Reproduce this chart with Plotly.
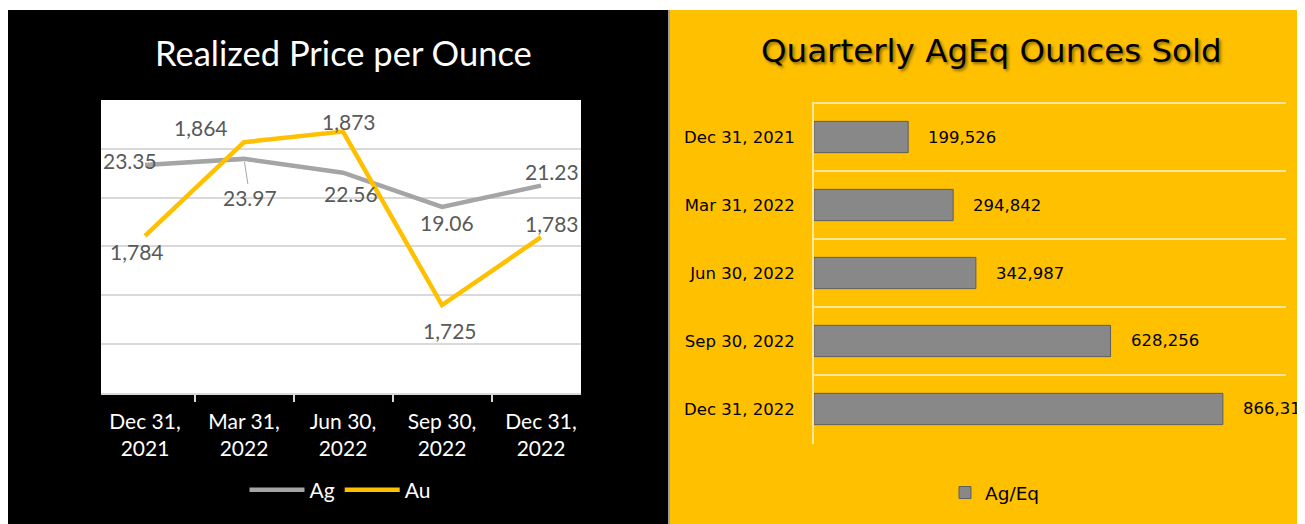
import plotly.graph_objects as go

W, H = 1305, 524
OFF = 8  # page body margin

# data
quarters = ["Dec 31, 2021", "Mar 31, 2022", "Jun 30, 2022", "Sep 30, 2022", "Dec 31, 2022"]
quarter_ticks = ["Dec 31,<br>2021", "Mar 31,<br>2022", "Jun 30,<br>2022", "Sep 30,<br>2022", "Dec 31,<br>2022"]
ag_price = [23.35, 23.97, 22.56, 19.06, 21.23]
au_price = [1784, 1864, 1873, 1725, 1783]
ageq_sold = [199526, 294842, 342987, 628256, 866319]

# label offsets in px (excel-style manual placement)
ag_dx = [-15, 6, 8, 5, 11]
ag_dy = [4, -39, -21, -16, 14]
au_dx = [-8, -43, 6, 8, 11]
au_dy = [-16, 15, 10, -25, 14]

GOLD = "#FFC000"
SILVER = "#A5A5A5"
LFONT = "Lato"
RFONT = "DejaVu Sans"


def px(x):
    return (x - OFF) / W


def py(y):
    return 1 - (y - OFF) / H


fig = go.Figure()

fig.add_trace(go.Scatter(x=quarters, y=ag_price, name="Ag", mode="lines",
                         line=dict(color=SILVER, width=4.5), xaxis="x", yaxis="y",
                         legend="legend"))
fig.add_trace(go.Scatter(x=quarters, y=au_price, name="Au", mode="lines",
                         line=dict(color=GOLD, width=4.5), xaxis="x", yaxis="y2",
                         legend="legend"))

fig.add_trace(go.Bar(x=ageq_sold, y=quarters, orientation="h", name="Ag/Eq",
                     marker=dict(color="#888888", line=dict(color="#5E5E5E", width=1)),
                     xaxis="x2", yaxis="y3", legend="legend2"))

annotations = []
lab_font = dict(family=LFONT, size=21, color="#595959")
for i, q in enumerate(quarters):
    if i == 1:
        # label with a leader line
        annotations.append(dict(x=q, y=ag_price[i], xref="x", yref="y",
                                text=f"{ag_price[i]:.2f}", showarrow=True,
                                arrowhead=0, arrowwidth=1, arrowcolor=SILVER,
                                ax=ag_dx[i], ay=-ag_dy[i], standoff=3, font=lab_font))
    else:
        annotations.append(dict(x=q, y=ag_price[i], xref="x", yref="y",
                                text=f"{ag_price[i]:.2f}", showarrow=False,
                                xshift=ag_dx[i], yshift=ag_dy[i], font=lab_font))
    annotations.append(dict(x=q, y=au_price[i], xref="x", yref="y2",
                            text=f"{au_price[i]:,}", showarrow=False,
                            xshift=au_dx[i], yshift=au_dy[i], font=lab_font))

for q, v in zip(quarters, ageq_sold):
    annotations.append(dict(x=v, y=q, xref="x2", yref="y3", text=f"{v:,}",
                            showarrow=False, xanchor="left", xshift=18,
                            font=dict(family=RFONT, size=16.5, color="black")))

annotations.append(dict(x=px(343), y=py(52), xref="paper", yref="paper",
                        xanchor="center", yanchor="middle",
                        text="Realized Price per Ounce", showarrow=False,
                        font=dict(family=LFONT, size=34.5, color="white")))
annotations.append(dict(x=px(991), y=py(51), xref="paper", yref="paper",
                        xanchor="center", yanchor="middle",
                        text="Quarterly AgEq Ounces Sold", showarrow=False,
                        font=dict(family=RFONT, size=32.5, color="black",
                                  shadow="2px 2px 3px rgba(0,0,0,0.45)")))

shapes = [
    dict(type="rect", xref="paper", yref="paper", x0=px(8), x1=px(668), y0=-0.1, y1=py(10),
         fillcolor="black", line_width=0, layer="below"),
    dict(type="rect", xref="paper", yref="paper", x0=px(670), x1=1.1, y0=-0.1, y1=py(10),
         fillcolor=GOLD, line_width=0, layer="below"),
    dict(type="line", xref="paper", yref="paper", x0=px(669), x1=px(669), y0=-0.1, y1=py(10),
         line=dict(color="#7F7F7F", width=1.5), layer="below"),
    dict(type="rect", xref="paper", yref="paper", x0=px(101), x1=px(581), y0=py(393), y1=py(100),
         fillcolor="white", line_width=0, layer="below"),
]

fig.update_layout(
    width=W, height=H,
    margin=dict(l=0, r=0, t=0, b=0),
    paper_bgcolor="white",
    plot_bgcolor="rgba(0,0,0,0)",
    shapes=shapes,
    annotations=annotations,
    bargap=0.54,
    xaxis=dict(domain=[px(101), px(581)], anchor="y", type="category",
               tickvals=quarters, ticktext=quarter_ticks, tickson="boundaries",
               ticks="outside", ticklen=7, tickwidth=1.5, tickcolor="#D9D9D9",
               showline=True, linecolor="#D9D9D9", linewidth=1.5, showgrid=False,
               ticklabelstandoff=9,
               tickfont=dict(family=LFONT, size=21, color="white")),
    yaxis=dict(domain=[py(393), py(99.5)], anchor="x", range=[0, 30.05], dtick=5,
               showgrid=True, gridcolor="#D9D9D9", gridwidth=2, zeroline=False,
               showticklabels=False),
    yaxis2=dict(overlaying="y", anchor="x", range=[1650, 1900.4], visible=False),
    xaxis2=dict(domain=[px(814), px(1286)], anchor="y3", range=[0, 1000000], visible=False),
    yaxis3=dict(domain=[py(444), py(102)], anchor="x2", type="category",
                range=[4.515, -0.515], tickson="boundaries", ticks="",
                showgrid=True, gridcolor="#FFE699", gridwidth=2,
                showline=True, linecolor="#FFE699", linewidth=2,
                ticklabelstandoff=14,
                tickfont=dict(family=RFONT, size=16.5, color="black")),
    legend=dict(orientation="h", x=px(340), xanchor="center", y=py(490), yanchor="middle",
                font=dict(family=LFONT, size=21, color="white"), itemwidth=55,
                bgcolor="rgba(0,0,0,0)"),
    legend2=dict(orientation="h", x=px(995), xanchor="center", y=py(493), yanchor="middle",
                 font=dict(family=RFONT, size=18.5, color="black"),
                 bgcolor="rgba(0,0,0,0)"),
)

fig.write_html("out.html")
